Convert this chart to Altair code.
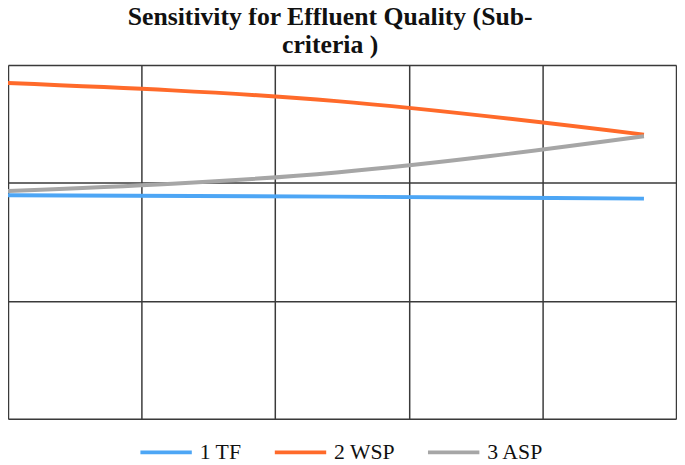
import altair as alt
import pandas as pd

# ---- data ----
series_names = ["1 TF", "2 WSP", "3 ASP"]
series_colors = ["#4DA6F5", "#FF6A2A", "#A6A6A6"]
x_points = [0, 2.46, 4.76]
tf_values = [1.895, 1.884, 1.867]
wsp_values = [2.847, 2.694, 2.410]
asp_values = [1.931, 2.089, 2.396]
x_grid = [0, 1, 2, 3, 4, 5]
y_grid = [0, 1, 2, 3]
title_lines = ["Sensitivity for Effluent Quality (Sub-", "criteria )"]

rows = []
for name, vals in zip(series_names, [tf_values, wsp_values, asp_values]):
    for xv, yv in zip(x_points, vals):
        rows.append({"series": name, "x": xv, "y": yv})
df = pd.DataFrame(rows)

W, H = 676, 358

lines = alt.Chart(df).mark_line(strokeWidth=4, interpolate="monotone", strokeCap="butt").encode(
    x=alt.X("x:Q", scale=alt.Scale(domain=[0, 5], nice=False, zero=False),
            axis=alt.Axis(values=x_grid, grid=True, labels=False, ticks=False, domain=False, title=None,
                          gridColor="#3a3a3a", gridWidth=1.5)),
    y=alt.Y("y:Q", scale=alt.Scale(domain=[0, 3], nice=False),
            axis=alt.Axis(values=y_grid, grid=True, labels=False, ticks=False, domain=False, title=None,
                          gridColor="#3a3a3a", gridWidth=1.5)),
    color=alt.Color("series:N", scale=alt.Scale(domain=series_names, range=series_colors),
                    legend=alt.Legend(orient="none", legendX=132, legendY=364, direction="horizontal",
                                      title=None, symbolType="stroke", symbolSize=2704,
                                      symbolStrokeWidth=4, labelFont="Liberation Serif",
                                      labelFontSize=22, labelColor="#111", labelOffset=6,
                                      columnPadding=25, labelLimit=200, labelBaseline="middle",
                                      padding=0)),
    order="x:Q",
)

t1 = alt.Chart(pd.DataFrame({"t": [title_lines[0]]})).mark_text(
    font="Liberation Serif", fontSize=26, fontWeight="bold", color="#111",
    align="center", baseline="alphabetic").encode(
    text="t:N", x=alt.value(326), y=alt.value(-40))
t2 = alt.Chart(pd.DataFrame({"t": [title_lines[1]]})).mark_text(
    font="Liberation Serif", fontSize=26, fontWeight="bold", color="#111",
    align="center", baseline="alphabetic").encode(
    text="t:N", x=alt.value(326), y=alt.value(-12.5))

chart = alt.layer(lines, t1, t2).properties(
    width=W, height=H,
    autosize=alt.AutoSizeParams(type="none"),
    padding={"left": 0, "top": 55, "right": 1, "bottom": 40},
).configure_view(stroke="#222", strokeWidth=2).configure(background="white")

chart.save("out.html", embed_options={"renderer": "svg", "actions": False})
